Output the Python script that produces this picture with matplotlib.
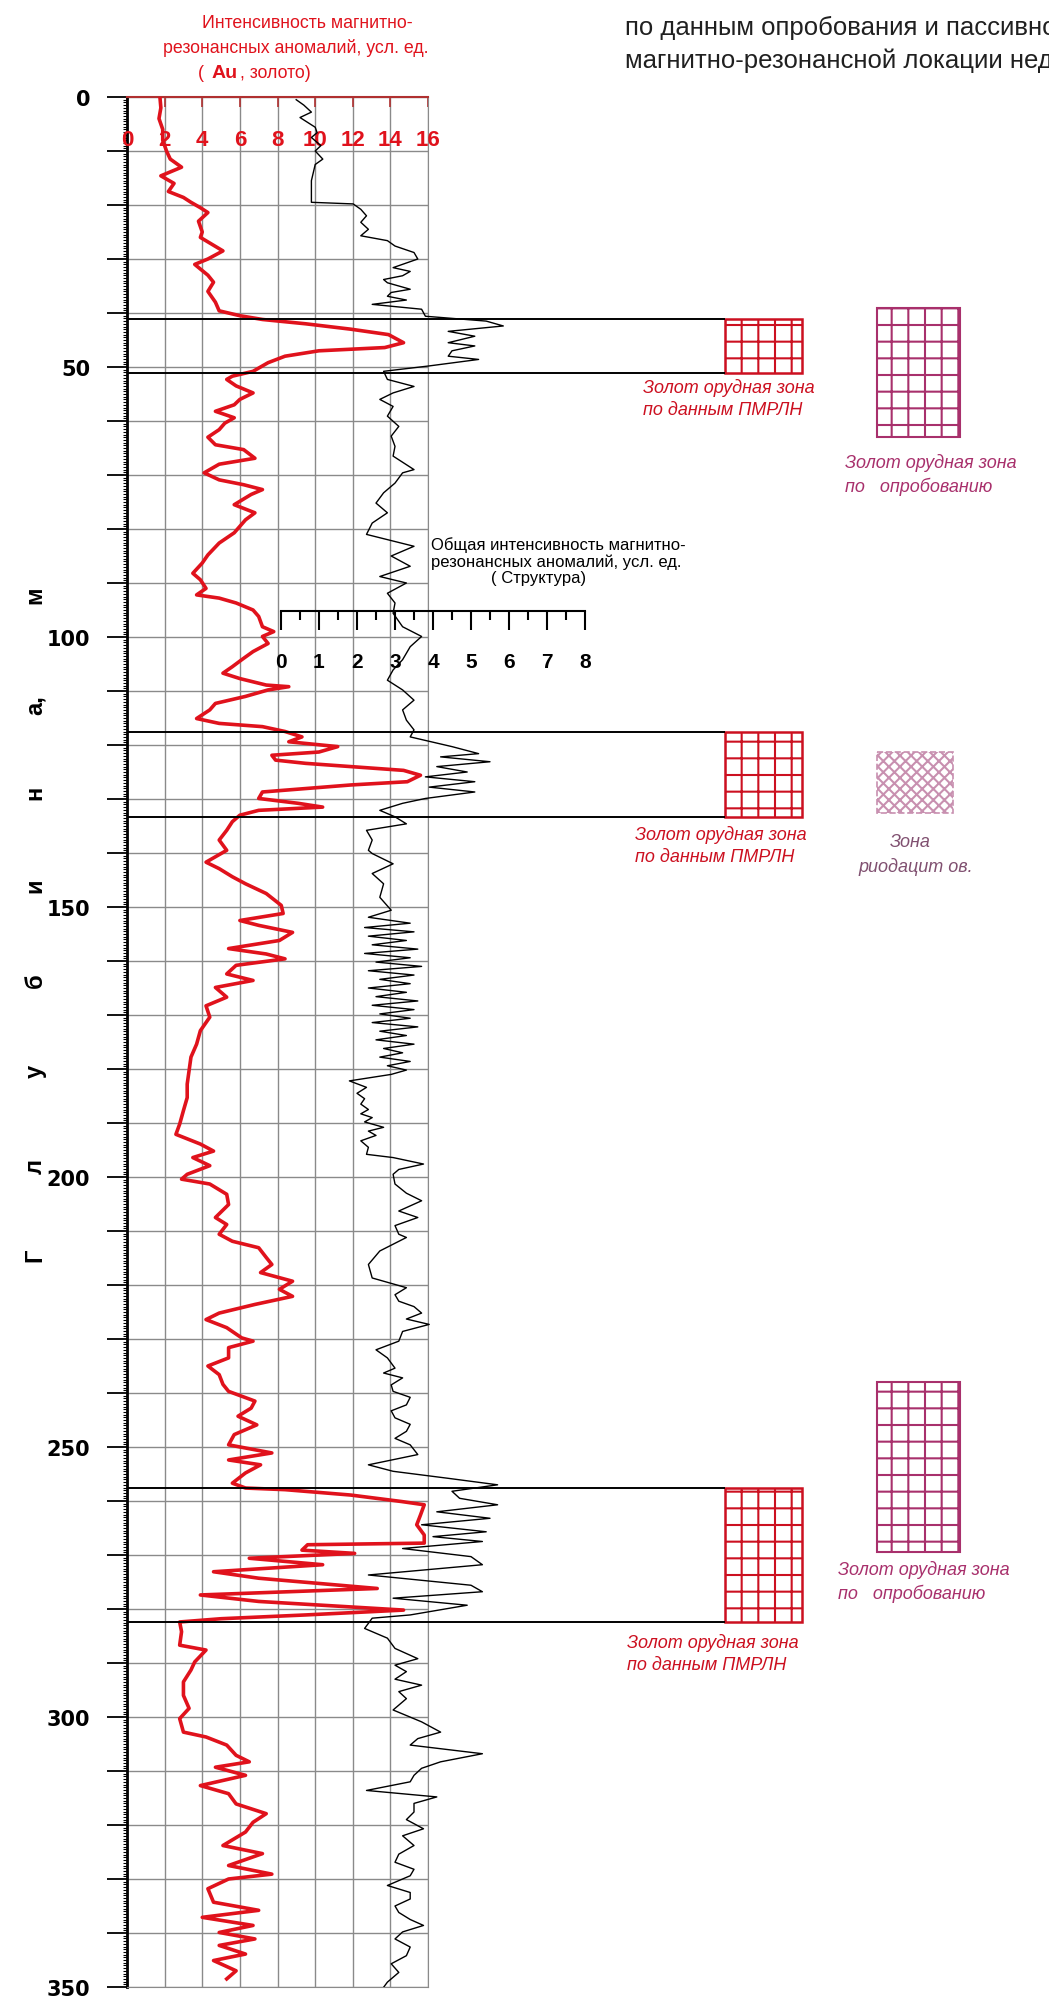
import numpy as np
import matplotlib
matplotlib.use('Agg')
import matplotlib.pyplot as plt
from matplotlib.patches import Rectangle
from matplotlib.ticker import MultipleLocator

plt.rcParams['font.family'] = ['Liberation Sans', 'DejaVu Sans']
plt.rcParams['hatch.linewidth'] = 1.5

# Au (gold) intensity, red curve: depth (m) / value
au_depth = [0, 2, 4, 6, 8, 10, 11.5, 13, 14.6, 16, 17.5, 18.6, 19.5, 20.5, 21.4, 23, 25, 26, 28.5, 30,
            31, 33, 34.3, 36, 38, 39.6, 40.5, 41.2, 42, 43, 44, 45.5, 46.4, 47, 48, 49.2, 50.8, 51.7, 52.3, 53.5,
            54.8, 56, 57, 58.2, 59.4, 60.4, 61.6, 63, 64.4, 65.3, 66.9, 68, 69.6, 70.9, 71.8, 72.7, 73.6, 75.5, 77, 78.3,
            80.7, 82.6, 84.8, 86.3, 88.2, 89.4, 91, 92.2, 92.8, 93.7, 95, 96.2, 98.1, 99, 99.9, 101.2, 102.7, 104.2, 105.5, 106.7,
            107.7, 108.9, 109.2, 109.8, 111, 112.3, 113.5, 115.1, 116, 116.6, 117.5, 118.5, 119.4, 120.3, 121.3, 121.9, 122.8, 123.4, 124.7, 125.6,
            126.8, 127.4, 128.7, 129.9, 130.8, 131.5, 132.1, 133, 134.2, 135.8, 137.6, 139.5, 141.7, 142.9, 144.4, 145.7, 147.5, 149.7, 151.2, 152.5,
            153.4, 154.7, 156.2, 157.7, 158.7, 159.6, 160.8, 162.4, 163.6, 164.9, 166.7, 168.3, 170.4, 172.9, 175.4, 177.8, 180.3, 182.8, 185.3, 187.7,
            190.2, 192.1, 193.9, 195.2, 196.4, 197.9, 199.5, 200.4, 201.3, 203.2, 205.1, 207.5, 208.8, 210.6, 211.9, 213.1, 214.9, 216.2, 217.7, 219.3,
            220.8, 222.1, 223.6, 225.2, 226.4, 227.9, 229.8, 230.4, 231.6, 233.5, 235, 236.6, 238.4, 239.7, 241.5, 242.8, 244.3, 245.9, 247.7, 249.6,
            251.1, 252.4, 253.3, 254.8, 256.7, 257.6, 257.9, 258.9, 260.1, 260.7, 262.6, 264.4, 266.3, 267.8, 268.1, 269.1, 269.7, 270.6, 271.8, 273.1,
            274.3, 276.2, 277.4, 278.6, 280.2, 281.1, 281.8, 282.4, 284.2, 286.7, 287.6, 289.8, 291.3, 293.5, 296, 298.4, 300.3, 302.8, 303.7, 305.2,
            307.1, 308.3, 309.3, 310.8, 312.7, 314.2, 316.1, 317.9, 319.5, 321.3, 323.8, 325.3, 327.5, 329.1, 330, 331.8, 334.3, 335.8, 337.1, 338.6,
            339.9, 341.1, 342.3, 343.9, 345.1, 347, 348.5]
au_value = [1.75, 1.8, 1.7, 1.9, 1.9, 2.1, 2.3, 2.9, 1.8, 2.5, 2.2, 3.0, 3.4, 3.9, 4.3, 3.8, 4.0, 3.9, 5.1, 4.3,
            3.6, 4.3, 4.6, 4.3, 4.7, 4.9, 6.0, 7.2, 9.5, 11.9, 13.9, 14.7, 13.7, 10.2, 8.4, 7.5, 6.7, 5.6, 5.3, 5.8,
            6.7, 6.0, 5.7, 4.7, 5.7, 5.2, 4.9, 4.3, 4.7, 6.2, 6.8, 4.9, 4.1, 4.9, 6.2, 7.2, 6.6, 5.7, 6.8, 6.3,
            5.7, 4.9, 4.3, 4.0, 3.5, 3.9, 4.2, 3.7, 4.9, 5.8, 6.7, 7.0, 7.2, 7.8, 7.2, 7.5, 6.7, 6.1, 5.6, 5.1,
            6.0, 7.4, 8.6, 7.5, 6.3, 4.7, 4.4, 3.7, 4.9, 7.2, 8.4, 9.3, 8.6, 11.2, 10.2, 7.7, 7.9, 9.5, 14.7, 15.6,
            14.9, 11.9, 7.2, 7.0, 9.1, 10.4, 7.0, 6.0, 5.6, 5.3, 4.9, 5.3, 4.2, 4.9, 5.6, 6.3, 7.4, 8.2, 8.3, 6.0,
            7.0, 8.8, 8.1, 5.4, 7.4, 8.4, 5.8, 5.3, 6.7, 4.7, 5.3, 4.2, 4.4, 3.9, 3.7, 3.4, 3.3, 3.2, 3.2, 3.0,
            2.8, 2.6, 3.9, 4.6, 3.5, 4.4, 3.2, 2.9, 4.4, 5.3, 5.4, 4.7, 5.3, 4.9, 5.6, 7.0, 7.4, 7.7, 7.1, 8.8,
            8.1, 8.8, 6.8, 4.9, 4.2, 5.3, 6.1, 6.7, 5.4, 5.4, 4.3, 4.9, 5.1, 5.4, 6.8, 6.6, 5.9, 6.9, 5.7, 5.4,
            7.7, 5.4, 7.1, 6.3, 5.6, 6.3, 8.4, 11.9, 14.6, 15.8, 15.6, 15.4, 15.8, 15.8, 9.6, 9.3, 12.1, 6.5, 10.4, 4.6,
            7.0, 13.3, 3.9, 7.0, 14.7, 9.5, 5.0, 2.8, 2.9, 2.8, 4.2, 3.6, 3.4, 3.0, 3.0, 3.3, 2.8, 3.0, 4.2, 5.3,
            5.8, 6.5, 4.7, 6.3, 3.9, 5.4, 5.8, 7.4, 6.7, 6.3, 5.1, 7.2, 5.4, 7.7, 5.4, 4.3, 4.6, 7.0, 4.0, 6.7,
            4.9, 6.8, 4.9, 6.3, 4.6, 5.8, 5.3]

# total intensity ("Структура"), black curve: depth (m) / value
st_depth = [0.5, 1.5, 2.8, 3.8, 4.7, 5.6, 6.6, 7.5, 9, 10, 11.5, 12.5, 14, 15.5, 17, 19.5, 19.8, 20.8, 22, 23.2,
            24.5, 25.7, 26.6, 27.6, 28.8, 30, 31.6, 32.3, 33.1, 33.8, 34.4, 35.6, 36.2, 36.9, 37.6, 38.4, 39.3, 40.6, 41.5, 42.4,
            43.4, 44.3, 45.5, 46.1, 47, 48, 48.6, 49.8, 50.8, 52.3, 53.6, 54.8, 56, 57.3, 59.1, 61, 62.8, 64.7, 66.5, 69,
            69.6, 71.5, 73.3, 75.2, 77, 78.9, 81, 83.2, 85, 86.9, 88.8, 90, 91.9, 93.7, 95.6, 98.1, 99.9, 101.8, 104.2, 106.1,
            108, 109.8, 111.7, 113.5, 115.4, 117.2, 118.5, 120.3, 121.6, 122.2, 123.1, 124, 125, 125.9, 126.8, 127.8, 128.7, 129.9, 130.8, 132.1,
            133.3, 134.6, 135.8, 137.6, 139.5, 140.1, 142, 143.8, 145.7, 148.2, 150.6, 151.9, 153, 153.8, 154.6, 155.4, 156.2, 157, 157.8, 158.6,
            159.4, 160.2, 161, 161.8, 162.6, 163.4, 164.2, 165, 165.8, 166.6, 167.4, 168.2, 169, 169.8, 170.6, 171.4, 172.2, 173, 173.8, 174.6,
            175.4, 176.2, 177, 177.8, 178.6, 179.4, 180.2, 181, 182.2, 183.4, 184.5, 185.5, 186.5, 187.5, 188.3, 189, 189.8, 190.8, 191.5, 192.3,
            193.3, 194.5, 195.8, 196.4, 197.6, 198.6, 199.5, 201.3, 203, 204.4, 206.3, 207.5, 209, 210.6, 211.2, 213.7, 216.2, 218.7, 220.5, 221.8,
            223, 224, 225.2, 226.3, 227.3, 228.6, 230.4, 232, 233.5, 235.4, 236.3, 237.2, 238.5, 239.7, 240.8, 242.2, 243.3, 244.6, 245.8, 247.1,
            248.4, 249.6, 251.4, 253.3, 254.5, 255.8, 257, 258.2, 259.5, 260.7, 262, 263.2, 264.4, 265.7, 266.6, 267.5, 268.8, 270.3, 271.8, 273.7,
            275.6, 276.8, 278, 279.3, 281.1, 281.7, 283.6, 285.4, 287.3, 289.2, 290.4, 291.6, 293, 294.1, 295.3, 296.6, 298.7, 300.9, 302.8, 304,
            305.2, 306.8, 308.3, 309.5, 310.8, 312, 313.6, 314.8, 316, 317.6, 319, 320.7, 322, 323.8, 325.4, 326.9, 328.2, 329.4, 331.2, 332.5,
            333.7, 335, 336.2, 337.5, 338.6, 339.8, 341.1, 342.6, 344.2, 345.7, 347.3, 349.1, 351]
st_value = [0.4, 0.6, 0.8, 0.5, 0.7, 0.9, 0.95, 0.8, 1.05, 0.9, 1.1, 0.9, 0.85, 0.8, 0.8, 0.8, 1.9, 2.1, 2.25, 2.1,
            2.3, 2.1, 2.8, 3.0, 3.5, 3.6, 2.95, 3.4, 3.2, 2.7, 2.8, 3.4, 2.9, 2.8, 3.3, 2.4, 3.7, 3.8, 5.4, 5.85,
            4.4, 5.1, 4.4, 5.1, 4.5, 4.4, 5.2, 3.9, 2.7, 2.8, 3.5, 2.95, 2.6, 2.95, 2.8, 3.1, 2.9, 3.0, 2.95, 3.5,
            3.2, 3.0, 2.7, 2.5, 2.8, 2.4, 2.25, 3.5, 2.9, 3.4, 2.6, 3.3, 2.8, 3.0, 2.95, 3.2, 3.7, 3.4, 3.2, 2.95,
            2.8, 3.2, 3.5, 3.2, 3.3, 3.5, 3.4, 4.5, 5.2, 4.2, 5.5, 4.1, 4.9, 3.8, 5.1, 3.9, 5.1, 3.8, 3.2, 2.6,
            3.0, 3.3, 2.25, 2.4, 2.3, 2.4, 2.95, 2.4, 2.7, 2.6, 2.9, 2.3, 3.4, 2.2, 3.5, 2.3, 3.3, 2.4, 3.6, 2.2,
            3.4, 2.5, 3.7, 2.3, 3.5, 2.6, 3.4, 2.3, 3.3, 2.5, 3.6, 2.4, 3.5, 2.6, 3.4, 2.4, 3.6, 2.6, 3.3, 2.5,
            3.5, 2.7, 3.2, 2.6, 3.4, 2.8, 3.3, 2.9, 1.8, 2.25, 2.0, 2.2, 2.1, 2.3, 2.1, 2.4, 2.2, 2.7, 2.3, 2.5,
            2.1, 2.3, 2.25, 2.95, 3.75, 3.1, 2.95, 3.0, 3.3, 3.7, 3.1, 3.6, 3.0, 3.1, 3.3, 2.6, 2.3, 2.4, 3.3, 3.0,
            3.1, 3.5, 3.7, 3.3, 3.9, 3.2, 3.1, 2.5, 2.8, 3.0, 2.7, 3.2, 2.9, 2.95, 3.4, 3.3, 2.9, 3.0, 3.4, 3.3,
            3.0, 3.4, 3.6, 2.3, 2.95, 4.4, 5.7, 4.5, 4.7, 5.7, 4.1, 5.5, 3.7, 5.4, 4.0, 5.3, 3.2, 5.0, 5.3, 2.3,
            5.0, 5.3, 2.95, 4.9, 3.4, 2.4, 2.2, 2.8, 3.0, 3.6, 3.0, 3.3, 3.0, 3.7, 3.1, 3.3, 2.95, 3.7, 4.2, 3.6,
            3.4, 5.3, 4.2, 3.7, 3.5, 3.4, 2.25, 4.1, 3.5, 3.5, 3.3, 3.75, 3.2, 3.5, 3.1, 3.0, 3.5, 3.4, 2.8, 3.4,
            3.4, 3.0, 3.1, 3.4, 3.75, 3.2, 3.0, 3.4, 3.3, 2.9, 3.1, 2.8, 2.6]

# ore zones by PMRLN (depth top / bottom)
pmrln_top = [41.1, 117.6, 257.6]
pmrln_bot = [51.1, 133.3, 282.4]
# ore zones by sampling
samp_top = [39.0, 238.0]
samp_bot = [62.9, 269.4]
# rhyodacite zone
rio_top = [121.3]
rio_bot = [132.5]

au_ticks = [0, 2, 4, 6, 8, 10, 12, 14, 16]
st_ticks = [0, 1, 2, 3, 4, 5, 6, 7, 8]
depth_ticks = list(range(0, 351, 10))

W = 1049.0
H = 1999.0
RED = '#e0121c'
MAG = '#a8306c'

fig = plt.figure(figsize=(W / 100, H / 100), dpi=100)
fig.patch.set_facecolor('white')

def fx(px):
	return px / W

def fy(py):
	return 1 - py / H

ax = fig.add_axes([fx(127), fy(1988), 301 / W, 1890 / H])
ax.set_xlim(0, 16)
ax.set_ylim(350, 0)
ax.set_xticks(au_ticks)
ax.set_yticks(depth_ticks)
ax.set_yticklabels([str(d) if d % 50 == 0 else '' for d in depth_ticks], fontsize=15,
	fontweight='bold', family='DejaVu Sans')
ax.yaxis.set_minor_locator(MultipleLocator(0.5))
ax.grid(color='#8a8a8a', lw=1)
ax.xaxis.tick_top()
ax.tick_params(axis='x', which='major', direction='in', length=7, width=1.2, color='#b03030', labeltop=False)
ax.tick_params(axis='y', which='major', direction='out', length=14.4, width=1.3, pad=12)
ax.tick_params(axis='y', which='minor', direction='out', length=3, width=0.8)
ax.spines['left'].set_linewidth(2)
ax.spines['top'].set_color('#b03030')
ax.spines['top'].set_linewidth(1.5)
ax.spines['right'].set_color('#8a8a8a')
ax.spines['bottom'].set_color('#8a8a8a')

for v in au_ticks:
	ax.text(v, 7.9, str(v), color=RED, fontsize=16, fontweight='bold', ha='center', va='center', zorder=5)

ax.plot(au_value, au_depth, color=RED, lw=2.6, zorder=3)

# second scale for the black curve
ax2 = fig.add_axes([fx(281), fy(1988), 304 / W, 1890 / H])
ax2.patch.set_visible(False)
ax2.set_xlim(0, 8)
ax2.set_ylim(350, 0)
for s in ['left', 'right', 'top']:
	ax2.spines[s].set_visible(False)
ax2.spines['bottom'].set_position(('data', 95.2))
ax2.spines['bottom'].set_linewidth(1.5)
ax2.set_yticks([])
ax2.set_xticks(st_ticks)
ax2.xaxis.set_minor_locator(MultipleLocator(0.5))
ax2.tick_params(axis='x', which='major', direction='out', length=13.5, width=1.5, pad=16, labelsize=15)
ax2.tick_params(axis='x', which='minor', direction='out', length=6.5, width=1.5)
for lab in ax2.get_xticklabels():
	lab.set_fontweight('bold')
ax2.plot(st_value, st_depth, color='black', lw=1.0, zorder=2)

def px2au(px):
	return (px - 127) * 16 / 301.0

# zone lines and boxes
for t, b in zip(pmrln_top, pmrln_bot):
	ax.hlines([t, b], 0, px2au(725), colors='black', lw=1.4, clip_on=False, zorder=4)
	ax.add_patch(Rectangle((px2au(725), t), px2au(802) - px2au(725), b - t, fill=False,
		edgecolor='#cc1020', hatch='+', lw=1.8, clip_on=False))
for t, b in zip(samp_top, samp_bot):
	ax.add_patch(Rectangle((px2au(877), t), px2au(960) - px2au(877), b - t, fill=False,
		edgecolor=MAG, hatch='+', lw=1.5, clip_on=False))
for t, b in zip(rio_top, rio_bot):
	ax.add_patch(Rectangle((px2au(877), t), px2au(953) - px2au(877), b - t, fill=False,
		edgecolor='#c890b0', hatch='xxx', lw=1.2, ls='--', clip_on=False))

# header texts
fig.text(fx(307), fy(23), 'Интенсивность магнитно-', color=RED, fontsize=12.8, ha='center', va='center')
fig.text(fx(296), fy(48), 'резонансных аномалий, усл. ед.', color=RED, fontsize=12.8, ha='center', va='center')
fig.text(fx(198), fy(73), '(', color=RED, fontsize=12.8, ha='left', va='center')
fig.text(fx(212), fy(73), 'Au', color=RED, fontsize=14, fontweight='bold', ha='left', va='center')
fig.text(fx(240), fy(73), ', золото)', color=RED, fontsize=12.8, ha='left', va='center')

fig.text(fx(625), fy(28), 'по данным опробования и пассивной', fontsize=18.5, ha='left', va='center', color='#202020')
fig.text(fx(625), fy(61), 'магнитно-резонансной локации недр', fontsize=18.5, ha='left', va='center', color='#202020')

fig.text(fx(431), fy(545), 'Общая интенсивность магнитно-', fontsize=12, ha='left', va='center')
fig.text(fx(431), fy(562), 'резонансных аномалий, усл. ед.', fontsize=12, ha='left', va='center')
fig.text(fx(491), fy(579), '( Структура)', fontsize=12, ha='left', va='center')

# depth label
for ch, py in [('м', 595), ('а,', 705), ('н', 793), ('и', 886), ('б', 981), ('у', 1071), ('л', 1166), ('Г', 1255)]:
	fig.text(fx(35), fy(py), ch, rotation=90, fontsize=17, fontweight='bold', ha='center', va='center')

# zone labels
for lx, ly in [(643, 388), (635, 835), (627, 1643)]:
	fig.text(fx(lx), fy(ly), 'Золот орудная зона', color='#cc1020', fontsize=13, style='italic', ha='left', va='center')
	fig.text(fx(lx), fy(ly + 23), 'по данным ПМРЛН', color='#cc1020', fontsize=13, style='italic', ha='left', va='center')
for lx, ly in [(845, 463), (838, 1570)]:
	fig.text(fx(lx), fy(ly), 'Золот орудная зона', color=MAG, fontsize=13, style='italic', ha='left', va='center')
	fig.text(fx(lx), fy(ly + 24), 'по   опробованию', color=MAG, fontsize=13, style='italic', ha='left', va='center')
fig.text(fx(890), fy(843), 'Зона', color='#805070', fontsize=13, style='italic', ha='left', va='center')
fig.text(fx(858), fy(867), 'риодацит ов.', color='#805070', fontsize=13, style='italic', ha='left', va='center')

plt.savefig('out.png', dpi=100)
